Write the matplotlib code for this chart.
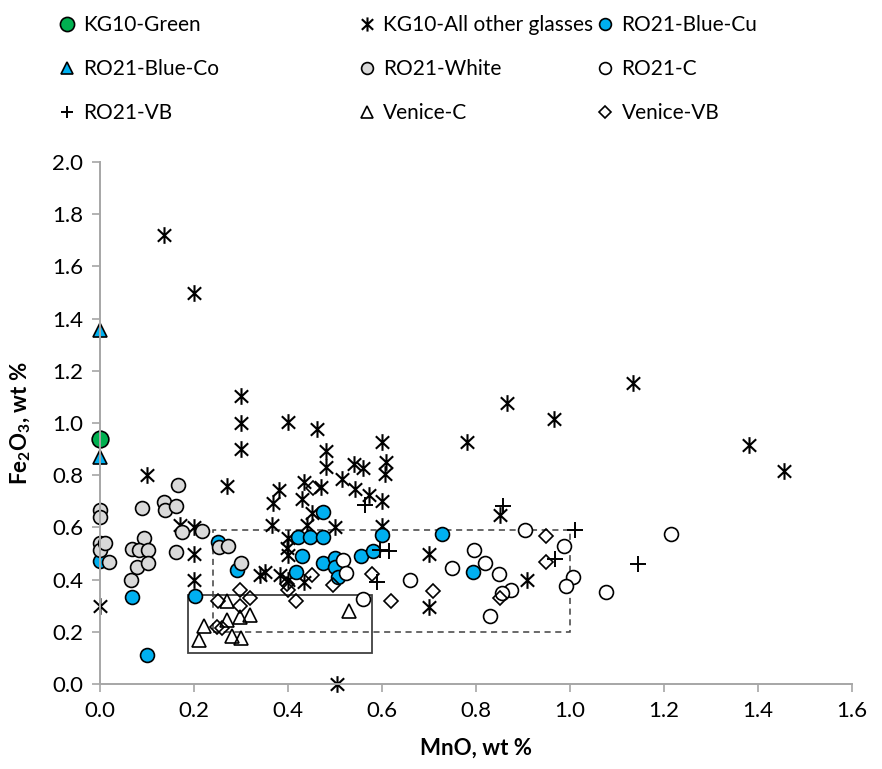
import matplotlib
matplotlib.use('Agg')
import matplotlib.pyplot as plt
from matplotlib.path import Path
from matplotlib.patches import Rectangle

plt.rcParams['font.family'] = ['Lato', 'DejaVu Sans']
plt.rcParams['mathtext.fontset'] = 'custom'
plt.rcParams['mathtext.rm'] = 'Lato'
plt.rcParams['mathtext.bf'] = 'Lato:bold'

# data (MnO, Fe2O3 in wt %)
green_x = [0.0]
green_y = [0.94]

kg_x = [0.136, 0.20, 0.30, 0.30, 0.30, 0.40, 0.10, 0.27, 0.0, 0.20, 0.20, 0.20, 0.17,
        0.461, 0.48, 0.48, 0.60, 0.54, 0.56, 0.609, 0.606, 0.514, 0.543, 0.573, 0.599,
        0.433, 0.47, 0.381, 0.369, 0.429, 0.45, 0.44, 0.50, 0.365, 0.601, 0.401, 0.397,
        0.401, 0.34, 0.351, 0.383, 0.433, 0.40, 0.699, 0.699, 0.504, 0.78, 0.865, 0.965,
        1.135, 0.851, 0.908, 1.38, 1.455]
kg_y = [1.72, 1.50, 1.105, 1.0, 0.90, 1.005, 0.80, 0.76, 0.30, 0.60, 0.50, 0.40, 0.61,
        0.976, 0.894, 0.833, 0.928, 0.843, 0.826, 0.85, 0.805, 0.785, 0.748, 0.724, 0.703,
        0.775, 0.754, 0.743, 0.692, 0.709, 0.654, 0.609, 0.603, 0.608, 0.607, 0.558, 0.52,
        0.494, 0.418, 0.43, 0.418, 0.392, 0.40, 0.50, 0.296, 0.0, 0.928, 1.077, 1.017,
        1.155, 0.649, 0.40, 0.917, 0.816]

cu_x = [0.0, 0.069, 0.099, 0.202, 0.252, 0.292, 0.474, 0.422, 0.447, 0.474, 0.60, 0.429,
        0.418, 0.475, 0.50, 0.499, 0.507, 0.555, 0.58, 0.727, 0.794]
cu_y = [0.47, 0.335, 0.112, 0.338, 0.545, 0.437, 0.66, 0.562, 0.564, 0.564, 0.571, 0.492,
        0.428, 0.465, 0.484, 0.447, 0.411, 0.49, 0.511, 0.573, 0.428]

co_x = [0.0, 0.0]
co_y = [1.355, 0.87]

white_x = [0.0, 0.0, 0.0, 0.0, 0.011, 0.019, 0.066, 0.069, 0.079, 0.089, 0.094, 0.083,
           0.103, 0.103, 0.137, 0.138, 0.162, 0.165, 0.161, 0.174, 0.218, 0.254, 0.273, 0.301]
white_y = [0.665, 0.64, 0.541, 0.512, 0.54, 0.467, 0.399, 0.518, 0.45, 0.674, 0.56, 0.512,
           0.514, 0.463, 0.697, 0.665, 0.684, 0.764, 0.505, 0.582, 0.585, 0.526, 0.528, 0.462]

c_x = [0.518, 0.523, 0.56, 0.66, 0.748, 0.796, 0.82, 0.848, 0.874, 0.855, 0.83, 0.904,
       0.988, 1.006, 0.991, 1.076, 1.214]
c_y = [0.475, 0.424, 0.326, 0.40, 0.445, 0.512, 0.463, 0.422, 0.362, 0.349, 0.26, 0.59,
       0.528, 0.409, 0.375, 0.352, 0.576]

vb_x = [0.564, 0.596, 0.614, 0.59, 0.857, 1.011, 0.968, 1.145]
vb_y = [0.686, 0.513, 0.511, 0.39, 0.684, 0.589, 0.48, 0.461]

venc_x = [0.211, 0.221, 0.27, 0.27, 0.28, 0.30, 0.298, 0.32, 0.529]
venc_y = [0.169, 0.224, 0.32, 0.247, 0.183, 0.177, 0.255, 0.263, 0.279]

venvb_x = [0.252, 0.298, 0.319, 0.248, 0.26, 0.298, 0.40, 0.398, 0.418, 0.45, 0.454,
           0.496, 0.578, 0.619, 0.709, 0.949, 0.949, 0.85]
venvb_y = [0.32, 0.36, 0.328, 0.217, 0.215, 0.30, 0.36, 0.382, 0.32, 0.418, 0.75,
           0.379, 0.422, 0.318, 0.357, 0.567, 0.467, 0.33]

# boxes (x0, y0, x1, y1)
solid_box = (0.188, 0.118, 0.578, 0.342)
dashed_box = (0.24, 0.20, 1.0, 0.59)

# asterisk: vertical bar plus an X
star = Path([(0, -1), (0, 1), (-0.8, -0.75), (0.8, 0.75), (-0.8, 0.75), (0.8, -0.75)],
            [Path.MOVETO, Path.LINETO, Path.MOVETO, Path.LINETO, Path.MOVETO, Path.LINETO])

fig = plt.figure(figsize=(8.82, 7.69), dpi=100)
ax = fig.add_axes([0.1134, 0.1105, 0.8526, 0.6788])

h = []
h.append(ax.plot(green_x, green_y, 'o', ms=12, mfc='#00B050', mec='black', mew=1.2, label='KG10-Green')[0])
h.append(ax.plot(kg_x, kg_y, ls='none', marker=star, ms=12, mec='black', mew=1.5, label='KG10-All other glasses')[0])
h.append(ax.plot(cu_x, cu_y, 'o', ms=10, mfc='#00B0F0', mec='black', mew=1.2, label='RO21-Blue-Cu')[0])
h.append(ax.plot(co_x, co_y, '^', ms=10, mfc='#00B0F0', mec='black', mew=1.2, label='RO21-Blue-Co')[0])
h.append(ax.plot(white_x, white_y, 'o', ms=10, mfc='#D9D9D9', mec='black', mew=1.2, label='RO21-White')[0])
h.append(ax.plot(c_x, c_y, 'o', ms=10, mfc='white', mec='black', mew=1.2, label='RO21-C')[0])
h.append(ax.plot(vb_x, vb_y, '+', ms=11, mec='black', mew=1.4, label='RO21-VB')[0])
h.append(ax.plot(venc_x, venc_y, '^', ms=10, mfc='none', mec='black', mew=1.2, label='Venice-C')[0])
h.append(ax.plot(venvb_x, venvb_y, 'D', ms=7, mfc='none', mec='black', mew=1.2, label='Venice-VB')[0])

ax.add_patch(Rectangle((solid_box[0], solid_box[1]), solid_box[2] - solid_box[0],
                       solid_box[3] - solid_box[1], fill=False, ec='#404040', lw=1.3))
ax.add_patch(Rectangle((dashed_box[0], dashed_box[1]), dashed_box[2] - dashed_box[0],
                       dashed_box[3] - dashed_box[1], fill=False, ec='#404040', lw=1.1,
                       ls=(0, (4, 3))))

ax.set_xlim(0, 1.6)
ax.set_ylim(0, 2.0)
ax.set_xticks([i * 0.2 for i in range(9)])
ax.set_yticks([i * 0.2 for i in range(11)])
ax.xaxis.set_major_formatter(matplotlib.ticker.FormatStrFormatter('%.1f'))
ax.yaxis.set_major_formatter(matplotlib.ticker.FormatStrFormatter('%.1f'))
for s in ['top', 'right']:
    ax.spines[s].set_visible(False)
for s in ['left', 'bottom']:
    ax.spines[s].set_color('#A6A6A6')
    ax.spines[s].set_linewidth(1.4)
ax.tick_params(direction='out', length=6, width=1.2, color='#A6A6A6', labelsize=16, pad=6)
for ln in h:
    ln.set_clip_on(False)

ax.set_xlabel('MnO, wt %', fontsize=16, fontweight='bold', labelpad=12)
ax.set_ylabel(r'Fe$_\mathbf{2}$O$_\mathbf{3}$, wt %', fontsize=16, fontweight='bold', labelpad=14)

# legend: three columns placed like the original
cols = [[h[0], h[3], h[6]], [h[1], h[4], h[7]], [h[2], h[5], h[8]]]
xs = [0.045, 0.385, 0.655]
for col, x in zip(cols, xs):
    fig.legend(handles=col, loc='upper left', bbox_to_anchor=(x, 1.005), frameon=False,
               fontsize=15, labelspacing=1.15, handlelength=0.8, handletextpad=0.4,
               markerscale=0.85)

fig.savefig('out.png', dpi=100)
